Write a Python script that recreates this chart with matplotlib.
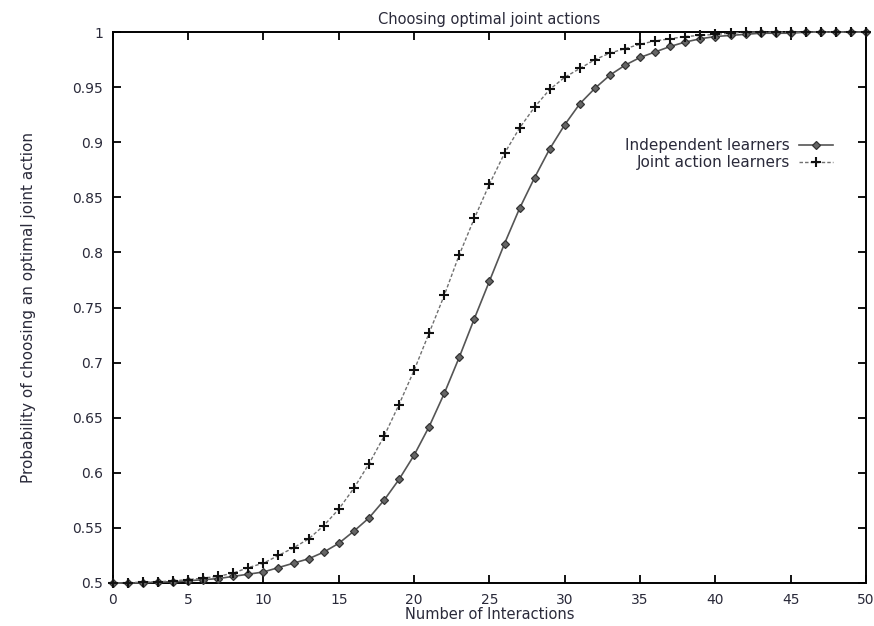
import matplotlib
matplotlib.use("Agg")
import matplotlib.pyplot as plt
import numpy as np

# interactions 0..50
interactions = list(range(51))

independent = [0.500, 0.500, 0.500, 0.501, 0.501, 0.502, 0.503, 0.504, 0.506, 0.508,
               0.510, 0.514, 0.518, 0.522, 0.528, 0.536, 0.547, 0.559, 0.575, 0.594,
               0.616, 0.642, 0.672, 0.705, 0.740, 0.774, 0.808, 0.840, 0.868, 0.894,
               0.916, 0.935, 0.949, 0.961, 0.970, 0.977, 0.982, 0.987, 0.991, 0.994,
               0.996, 0.997, 0.998, 0.999, 0.999, 0.999, 1.000, 1.000, 1.000, 1.000,
               1.000]

joint = [0.500, 0.500, 0.501, 0.501, 0.502, 0.503, 0.5045, 0.506, 0.509, 0.514,
         0.518, 0.525, 0.532, 0.540, 0.552, 0.567, 0.586, 0.608, 0.633, 0.662,
         0.693, 0.727, 0.761, 0.798, 0.831, 0.862, 0.890, 0.913, 0.932, 0.948,
         0.959, 0.967, 0.975, 0.981, 0.985, 0.989, 0.992, 0.994, 0.996, 0.997,
         0.998, 0.999, 1.000, 1.000, 1.000, 1.000, 1.000, 1.000, 1.000, 1.000,
         1.000]

x_ticks = [0, 5, 10, 15, 20, 25, 30, 35, 40, 45, 50]
y_ticks = [0.5, 0.55, 0.6, 0.65, 0.7, 0.75, 0.8, 0.85, 0.9, 0.95, 1.0]
y_tick_labels = ["0.5", "0.55", "0.6", "0.65", "0.7", "0.75", "0.8", "0.85", "0.9", "0.95", "1"]

plt.rcParams['font.family'] = ['DejaVu Sans']
txt = '#2a2a3a'

fig = plt.figure(figsize=(8.74, 6.26), dpi=100)
ax = fig.add_axes([0.129, 0.0687, 0.862, 0.880])

ax.plot(interactions, independent, color='#555555', linewidth=1.2, linestyle='-',
        marker='D', markersize=4.5, markerfacecolor='#666666', markeredgecolor='#333333',
        markeredgewidth=0.9, label='Independent learners', clip_on=False, zorder=3)
ax.plot(interactions, joint, color='#707070', linewidth=1.0, linestyle=(0, (2.5, 1.5)),
        marker='+', markersize=6.5, markeredgecolor='#111111', markeredgewidth=1.5,
        label='Joint action learners', clip_on=False, zorder=4)

ax.set_xlim(0, 50)
ax.set_ylim(0.5, 1.0)
ax.set_xticks(x_ticks)
ax.set_xticklabels([str(t) for t in x_ticks])
ax.set_yticks(y_ticks)
ax.set_yticklabels(y_tick_labels)
ax.tick_params(direction='in', length=6, width=1.3, top=True, right=True,
               labelsize=10, colors='black', labelcolor=txt, pad=7)
for s in ax.spines.values():
    s.set_linewidth(1.4)

ax.set_title('Choosing optimal joint actions', fontsize=10.5, color=txt, pad=6)
ax.set_xlabel('Number of Interactions', fontsize=10.5, color=txt, labelpad=0)
ax.set_ylabel('Probability of choosing an optimal joint action', fontsize=11, color=txt, labelpad=26)

ax.legend(loc='upper right', bbox_to_anchor=(0.974, 0.832), frameon=False, markerfirst=False,
          fontsize=11, handlelength=2.2, handletextpad=0.6, labelspacing=0.1,
          labelcolor=txt)

fig.savefig('out.png', dpi=100)
